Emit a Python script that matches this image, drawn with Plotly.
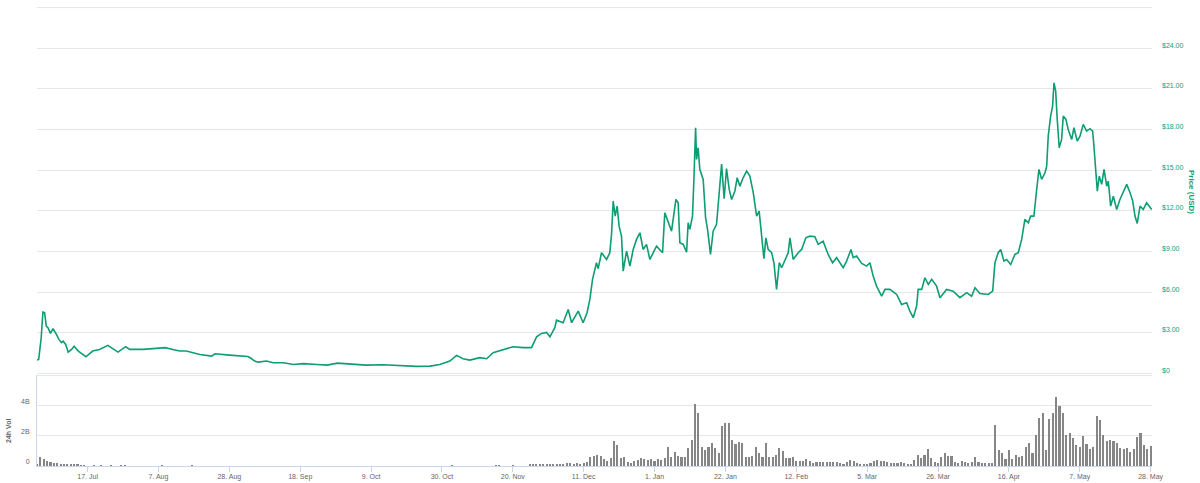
import pandas as pd
import plotly.graph_objects as go

# ---------------- data ----------------
price_dates = [
    "2017-07-02 00:00", "2017-07-02 12:00", "2017-07-03 06:00", "2017-07-03 18:00", "2017-07-04 06:00",
    "2017-07-04 18:00", "2017-07-05 06:00", "2017-07-06 00:00", "2017-07-06 18:00", "2017-07-07 06:00",
    "2017-07-07 18:00", "2017-07-08 12:00", "2017-07-09 06:00", "2017-07-09 18:00", "2017-07-10 12:00",
    "2017-07-11 06:00", "2017-07-12 06:00", "2017-07-13 00:00", "2017-07-14 06:00", "2017-07-16 12:00",
    "2017-07-18 12:00", "2017-07-20 12:00", "2017-07-23 00:00", "2017-07-24 00:00", "2017-07-26 00:00",
    "2017-07-28 06:00", "2017-07-29 12:00", "2017-08-02 12:00", "2017-08-05 12:00", "2017-08-09 00:00",
    "2017-08-11 06:00", "2017-08-13 06:00", "2017-08-15 06:00", "2017-08-19 06:00", "2017-08-22 18:00",
    "2017-08-23 18:00", "2017-08-28 00:00", "2017-08-31 00:00", "2017-09-02 12:00", "2017-09-03 12:00",
    "2017-09-04 12:00", "2017-09-05 12:00", "2017-09-08 00:00", "2017-09-10 00:00", "2017-09-13 00:00",
    "2017-09-16 00:00", "2017-09-19 00:00", "2017-09-23 00:00", "2017-09-26 00:00", "2017-09-29 00:00",
    "2017-10-02 18:00", "2017-10-07 12:00", "2017-10-12 12:00", "2017-10-17 12:00", "2017-10-22 12:00",
    "2017-10-26 12:00", "2017-10-29 09:00", "2017-11-01 08:00", "2017-11-03 08:00", "2017-11-05 06:00",
    "2017-11-07 06:00", "2017-11-10 06:00", "2017-11-12 06:00", "2017-11-14 04:00", "2017-11-17 03:00",
    "2017-11-20 02:00", "2017-11-23 01:00", "2017-11-25 13:00", "2017-11-27 01:00", "2017-11-28 12:00",
    "2017-11-30 00:00", "2017-12-01 00:00", "2017-12-02 11:00", "2017-12-02 23:00", "2017-12-04 22:00",
    "2017-12-06 10:00", "2017-12-07 10:00", "2017-12-09 09:00", "2017-12-10 20:00", "2017-12-12 00:00",
    "2017-12-12 20:00", "2017-12-13 15:00", "2017-12-14 19:00", "2017-12-15 07:00", "2017-12-16 07:00",
    "2017-12-17 19:00", "2017-12-18 18:00", "2017-12-19 06:00", "2017-12-19 18:00", "2017-12-20 08:00",
    "2017-12-20 22:00", "2017-12-21 12:00", "2017-12-22 05:00", "2017-12-22 17:00", "2017-12-23 17:00",
    "2017-12-24 17:00", "2017-12-25 16:00", "2017-12-26 16:00", "2017-12-27 16:00", "2017-12-28 15:00",
    "2017-12-29 15:00", "2017-12-30 15:00", "2018-01-01 14:00", "2018-01-03 09:00", "2018-01-04 01:00",
    "2018-01-05 01:00", "2018-01-06 01:00", "2018-01-07 08:00", "2018-01-08 00:00", "2018-01-08 12:00",
    "2018-01-09 12:00", "2018-01-10 12:00", "2018-01-10 23:00", "2018-01-11 11:00", "2018-01-12 06:00",
    "2018-01-12 16:00", "2018-01-13 04:00", "2018-01-13 11:00", "2018-01-13 22:00", "2018-01-14 10:00",
    "2018-01-15 10:00", "2018-01-16 03:00", "2018-01-16 17:00", "2018-01-17 14:00", "2018-01-18 09:00",
    "2018-01-19 09:00", "2018-01-20 04:00", "2018-01-20 21:00", "2018-01-21 15:00", "2018-01-22 08:00",
    "2018-01-23 03:00", "2018-01-23 20:00", "2018-01-24 19:00", "2018-01-25 12:00", "2018-01-26 07:00",
    "2018-01-27 06:00", "2018-01-28 07:00", "2018-01-29 06:00", "2018-01-30 06:00", "2018-01-31 06:00",
    "2018-02-01 00:00", "2018-02-01 17:00", "2018-02-02 10:00", "2018-02-03 00:00", "2018-02-03 16:00",
    "2018-02-04 17:00", "2018-02-05 09:00", "2018-02-06 04:00", "2018-02-06 23:00", "2018-02-07 16:00",
    "2018-02-08 15:00", "2018-02-09 15:00", "2018-02-10 03:00", "2018-02-11 02:00", "2018-02-12 14:00",
    "2018-02-13 14:00", "2018-02-14 20:00", "2018-02-16 01:00", "2018-02-17 12:00", "2018-02-18 12:00",
    "2018-02-19 23:00", "2018-02-21 11:00", "2018-02-22 18:00", "2018-02-23 23:00", "2018-02-25 22:00",
    "2018-02-26 22:00", "2018-02-28 05:00", "2018-02-28 21:00", "2018-03-01 21:00", "2018-03-03 09:00",
    "2018-03-04 20:00", "2018-03-05 20:00", "2018-03-06 19:00", "2018-03-07 19:00", "2018-03-09 07:00",
    "2018-03-10 07:00", "2018-03-11 18:00", "2018-03-13 18:00", "2018-03-15 05:00", "2018-03-16 17:00",
    "2018-03-17 16:00", "2018-03-18 16:00", "2018-03-19 16:00", "2018-03-20 03:00", "2018-03-21 04:00",
    "2018-03-22 03:00", "2018-03-23 03:00", "2018-03-24 03:00", "2018-03-25 14:00", "2018-03-26 14:00",
    "2018-03-28 13:00", "2018-03-30 12:00", "2018-04-01 12:00", "2018-04-03 12:00", "2018-04-04 23:00",
    "2018-04-05 23:00", "2018-04-07 10:00", "2018-04-09 21:00", "2018-04-11 05:00", "2018-04-11 21:00",
    "2018-04-12 20:00", "2018-04-13 14:00", "2018-04-14 13:00", "2018-04-15 08:00", "2018-04-16 13:00",
    "2018-04-17 19:00", "2018-04-18 19:00", "2018-04-19 19:00", "2018-04-20 18:00", "2018-04-21 18:00",
    "2018-04-22 11:00", "2018-04-23 10:00", "2018-04-24 06:00", "2018-04-24 22:00", "2018-04-25 17:00",
    "2018-04-26 17:00", "2018-04-27 05:00", "2018-04-27 16:00", "2018-04-28 09:00", "2018-04-28 23:00",
    "2018-04-29 09:00", "2018-04-29 21:00", "2018-04-30 08:00", "2018-04-30 22:00", "2018-05-01 15:00",
    "2018-05-02 03:00", "2018-05-02 22:00", "2018-05-03 14:00", "2018-05-04 15:00", "2018-05-05 07:00",
    "2018-05-06 06:00", "2018-05-07 02:00", "2018-05-08 01:00", "2018-05-09 01:00", "2018-05-10 01:00",
    "2018-05-10 20:00", "2018-05-11 05:00", "2018-05-11 19:00", "2018-05-12 05:00", "2018-05-12 19:00",
    "2018-05-13 12:00", "2018-05-14 05:00", "2018-05-15 00:00", "2018-05-15 11:00", "2018-05-16 04:00",
    "2018-05-16 23:00", "2018-05-17 23:00", "2018-05-18 22:00", "2018-05-19 22:00", "2018-05-20 22:00",
    "2018-05-21 22:00", "2018-05-22 17:00", "2018-05-23 09:00", "2018-05-24 01:00", "2018-05-24 21:00",
    "2018-05-25 20:00", "2018-05-26 20:00", "2018-05-27 15:00", "2018-05-28 08:00",
]
price_values = [
    0.98, 1.03, 2.65, 4.52, 4.48, 3.49, 3.37, 2.95, 3.30, 3.12,
    2.88, 2.51, 2.27, 2.38, 2.14, 1.57, 1.77, 2.01, 1.65, 1.23,
    1.65, 1.77, 2.07, 1.90, 1.57, 1.97, 1.77, 1.77, 1.82, 1.90,
    1.77, 1.65, 1.65, 1.40, 1.28, 1.45, 1.35, 1.28, 1.25, 1.10,
    0.91, 0.83, 0.91, 0.79, 0.79, 0.66, 0.72, 0.66, 0.61, 0.76,
    0.69, 0.61, 0.64, 0.59, 0.52, 0.54, 0.66, 0.91, 1.33, 1.08,
    0.98, 1.16, 1.08, 1.53, 1.77, 1.97, 1.90, 1.90, 2.70, 2.95,
    3.02, 2.70, 3.37, 3.93, 3.74, 4.72, 3.74, 4.60, 3.74, 4.48,
    5.46, 6.94, 8.17, 7.73, 8.91, 8.41, 8.91, 10.26, 12.72, 11.61,
    12.35, 10.87, 10.13, 7.55, 9.03, 7.92, 9.15, 9.89, 10.38, 9.15,
    9.52, 8.41, 9.39, 8.91, 11.86, 11.12, 10.50, 12.84, 12.60, 9.65,
    9.52, 8.95, 11.12, 10.63, 11.61, 14.32, 18.13, 15.79, 16.66, 15.06,
    14.32, 11.50, 10.63, 8.78, 10.50, 11.00, 13.34, 15.45, 12.90, 15.12,
    13.58, 12.84, 13.45, 14.44, 13.82, 14.44, 14.93, 14.56, 13.34, 11.61,
    11.98, 10.13, 8.47, 10.01, 9.15, 8.91, 8.17, 6.20, 8.17, 7.80,
    8.41, 8.91, 10.01, 8.41, 8.91, 9.15, 10.01, 10.13, 10.09, 9.52,
    9.76, 8.78, 8.17, 8.54, 7.80, 8.29, 9.15, 8.54, 8.66, 8.12,
    7.92, 8.17, 7.18, 6.44, 5.70, 6.20, 6.20, 5.83, 5.09, 5.22,
    4.60, 4.11, 4.97, 6.20, 6.20, 7.06, 6.57, 6.94, 6.44, 5.59,
    6.20, 6.07, 5.59, 5.96, 5.70, 6.32, 5.90, 5.83, 6.07, 8.17,
    8.91, 9.15, 8.29, 8.41, 8.04, 8.78, 8.91, 9.89, 11.37, 11.12,
    11.61, 11.61, 13.58, 15.06, 14.32, 14.81, 15.30, 17.51, 18.99, 19.73,
    21.45, 20.83, 18.75, 16.66, 17.27, 18.99, 18.75, 18.00, 17.27, 18.13,
    17.15, 17.51, 18.38, 17.88, 18.06, 17.88, 16.77, 15.06, 13.45, 14.56,
    13.95, 15.06, 13.82, 14.19, 12.35, 13.08, 12.10, 12.84, 13.34, 13.95,
    13.34, 12.72, 11.61, 11.07, 12.35, 12.10, 12.60, 12.35, 12.10,
]

# 24h volume in billions USD (daily)
vol_early_start = "2017-07-02"
vol_early = [0.12, 0.62, 0.45, 0.33, 0.25, 0.22, 0.18, 0.15, 0.12, 0.12, 0.10, 0.10, 0.08, 0.06, 0.05]
vol_sparse_dates = ["2017-07-19", "2017-07-21", "2017-07-24", "2017-07-27", "2017-07-28",
                    "2017-08-08", "2017-08-17", "2017-11-02", "2017-11-15", "2017-11-16", "2017-11-20"]
vol_sparse = [0.03, 0.03, 0.02, 0.03, 0.02, 0.02, 0.02, 0.03, 0.03, 0.03, 0.02]
vol_main_start = "2017-11-25"
vol_main = [
    0.08, 0.10, 0.12, 0.10, 0.13, 0.12, 0.15, 0.13, 0.14, 0.16,
    0.15, 0.18, 0.20, 0.15, 0.17, 0.14, 0.18, 0.29, 0.57, 0.66,
    0.73, 0.66, 0.44, 0.35, 0.50, 1.67, 1.38, 0.50, 0.57, 0.29,
    0.18, 0.35, 0.40, 0.50, 0.44, 0.40, 0.44, 0.35, 0.44, 0.40,
    0.50, 1.24, 0.57, 0.95, 0.66, 0.57, 0.62, 1.17, 1.73, 4.13,
    3.52, 1.28, 1.06, 1.28, 1.55, 1.17, 0.88, 2.66, 2.84, 2.88,
    1.73, 1.46, 1.62, 1.50, 0.57, 0.57, 0.66, 1.28, 0.84, 0.57,
    1.50, 0.62, 0.57, 0.73, 1.17, 1.02, 0.50, 0.50, 0.62, 0.35,
    0.35, 0.35, 0.44, 0.30, 0.22, 0.27, 0.29, 0.26, 0.28, 0.27,
    0.26, 0.24, 0.18, 0.11, 0.25, 0.37, 0.30, 0.22, 0.13, 0.13,
    0.14, 0.20, 0.33, 0.37, 0.33, 0.35, 0.25, 0.22, 0.20, 0.22,
    0.26, 0.22, 0.15, 0.15, 0.40, 0.73, 0.50, 0.73, 1.10, 0.50,
    0.29, 0.22, 0.57, 0.88, 0.66, 0.66, 0.29, 0.18, 0.35, 0.29,
    0.22, 0.29, 0.57, 0.29, 0.18, 0.18, 0.18, 0.18, 2.73, 1.06,
    0.84, 0.44, 1.06, 0.44, 0.73, 0.57, 0.66, 1.24, 1.55, 0.84,
    2.04, 3.18, 3.55, 1.06, 3.10, 3.50, 4.60, 4.00, 3.50, 2.04,
    2.20, 1.84, 1.40, 1.28, 2.00, 1.46, 1.10, 1.24, 3.30, 3.05,
    2.04, 1.67, 1.73, 1.67, 1.55, 1.17, 1.10, 1.17, 0.95, 1.10,
    1.95, 2.20, 1.40, 1.10, 1.33,
]

x_tick_dates = ["2017-07-17", "2017-08-07", "2017-08-28", "2017-09-18", "2017-10-09", "2017-10-30",
                "2017-11-20", "2017-12-11", "2018-01-01", "2018-01-22", "2018-02-12", "2018-03-05",
                "2018-03-26", "2018-04-16", "2018-05-07", "2018-05-28"]
x_tick_labels = ["17. Jul", "7. Aug", "28. Aug", "18. Sep", "9. Oct", "30. Oct", "20. Nov", "11. Dec",
                 "1. Jan", "22. Jan", "12. Feb", "5. Mar", "26. Mar", "16. Apr", "7. May", "28. May"]
price_ticks = [0, 3, 6, 9, 12, 15, 18, 21, 24, 27]
price_tick_labels = ["$0", "$3.00", "$6.00", "$9.00", "$12.00", "$15.00", "$18.00", "$21.00", "$24.00", ""]
vol_ticks = [0, 2, 4, 6]
vol_tick_labels = ["0", "2B", "4B", ""]

# ---------------- build ----------------
vol_dates = (list(pd.date_range(vol_early_start, periods=len(vol_early), freq="D"))
             + list(pd.to_datetime(vol_sparse_dates))
             + list(pd.date_range(vol_main_start, periods=len(vol_main), freq="D")))
vol_values = vol_early + vol_sparse + vol_main

GREEN = "#0f9d73"
GRID = "#e6e6e6"
AXIS = "#ccd6eb"
LABEL = "#666666"
FONT = "Liberation Sans, Arial, sans-serif"

fig = go.Figure()
fig.add_trace(go.Bar(
    x=vol_dates, y=vol_values, yaxis="y2", xaxis="x",
    marker=dict(color="#868686", line=dict(width=0)),
    width=0.62 * 86400000, hoverinfo="skip", showlegend=False,
))
fig.add_trace(go.Scatter(
    x=pd.to_datetime(price_dates), y=price_values, yaxis="y", xaxis="x",
    mode="lines", line=dict(color=GREEN, width=1.6), showlegend=False,
))

W, H = 1200, 483
L, R, T, B = 37, 48, 7, 17
plot_h = H - T - B  # 459
price_bottom = (466 - 374) / plot_h
vol_top = (466 - 375) / plot_h
pr_pad = 27 * 0.6 / (374 - 7)   # keep edge gridlines just inside the plot
vo_pad = 6 * 0.6 / 91

# edge gridlines (top/bottom of the price pane, top of the volume pane)
edge_lines = [
    dict(type="line", xref="paper", x0=0, x1=1, yref="y", y0=price_ticks[-1], y1=price_ticks[-1],
         line=dict(color=GRID, width=1), layer="below"),
    dict(type="line", xref="paper", x0=0, x1=1, yref="y", y0=price_ticks[0], y1=price_ticks[0],
         line=dict(color=GRID, width=1), layer="below"),
    dict(type="line", xref="paper", x0=0, x1=1, yref="y2", y0=vol_ticks[-1], y1=vol_ticks[-1],
         line=dict(color=GRID, width=1), layer="below"),
]

fig.update_layout(
    width=W, height=H,
    margin=dict(l=L, r=R, t=T, b=B, pad=0, autoexpand=False),
    paper_bgcolor="white", plot_bgcolor="white",
    font=dict(family=FONT, size=7, color=LABEL),
    bargap=0,
    shapes=edge_lines,
    xaxis=dict(
        type="date", anchor="y2", automargin=False,
        range=["2017-07-02 00:00", "2018-05-28 10:00"],
        tickvals=x_tick_dates, ticktext=x_tick_labels,
        ticks="outside", ticklen=5, tickcolor=AXIS, tickwidth=1,
        showline=True, linecolor=AXIS, linewidth=1,
        showgrid=False, zeroline=False, ticklabelstandoff=-1,
        tickfont=dict(size=7, color=LABEL, family=FONT),
    ),
    yaxis=dict(
        domain=[price_bottom, 1.0], side="right", anchor="x", automargin=False,
        range=[-pr_pad, 27 + pr_pad], tickvals=price_ticks, ticktext=price_tick_labels,
        showgrid=True, gridcolor=GRID, gridwidth=1, zeroline=False,
        showline=False, ticks="", ticklabelstandoff=9, ticklabelshift=-3,
        tickfont=dict(size=7, color=GREEN, family=FONT),
    ),
    yaxis2=dict(
        domain=[0, vol_top], side="left", anchor="x", automargin=False,
        range=[0, 6 + vo_pad], tickvals=vol_ticks, ticktext=vol_tick_labels,
        showgrid=True, gridcolor=GRID, gridwidth=1, zeroline=False,
        showline=True, linecolor=AXIS, linewidth=1,
        ticks="", ticklabelstandoff=5, ticklabelshift=-4,
        tickfont=dict(size=7, color=LABEL, family=FONT),
    ),
    annotations=[
        dict(text="<b>Price (USD)</b>", xref="paper", yref="paper",
             x=(1192 - L) / (W - L - R), y=(466 - 192) / plot_h,
             showarrow=False, textangle=90, xanchor="center", yanchor="middle",
             font=dict(size=8, color=GREEN, family=FONT)),
        dict(text="<b>24h Vol</b>", xref="paper", yref="paper",
             x=(8 - L) / (W - L - R), y=(466 - 431) / plot_h,
             showarrow=False, textangle=-90, xanchor="center", yanchor="middle",
             font=dict(size=7, color=LABEL, family=FONT)),
    ],
)

fig.write_html("out.html")
